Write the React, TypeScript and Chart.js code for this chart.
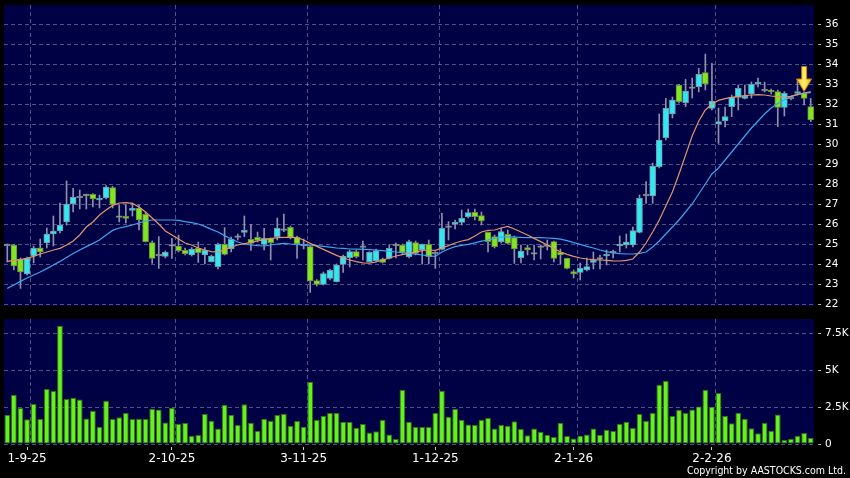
import React, { useEffect, useRef } from 'react';
import { Chart, registerables } from 'chart.js';

Chart.register(...registerables);

// ---------- categories (trading days) ----------
const DATES = [
  '27-8-25', '28-8-25', '29-8-25',
  '1-9-25', '2-9-25', '3-9-25', '4-9-25', '5-9-25', '8-9-25', '9-9-25', '10-9-25', '11-9-25', '12-9-25',
  '15-9-25', '16-9-25', '17-9-25', '18-9-25', '19-9-25', '22-9-25', '23-9-25', '24-9-25', '25-9-25', '26-9-25',
  '29-9-25', '30-9-25',
  '2-10-25', '3-10-25', '6-10-25', '8-10-25', '9-10-25', '10-10-25', '13-10-25', '14-10-25', '15-10-25',
  '16-10-25', '17-10-25', '20-10-25', '21-10-25', '22-10-25', '23-10-25', '24-10-25', '27-10-25', '28-10-25',
  '30-10-25', '31-10-25',
  '3-11-25', '4-11-25', '5-11-25', '6-11-25', '7-11-25', '10-11-25', '11-11-25', '12-11-25', '13-11-25',
  '14-11-25', '17-11-25', '18-11-25', '19-11-25', '20-11-25', '21-11-25', '24-11-25', '25-11-25', '26-11-25',
  '27-11-25', '28-11-25',
  '1-12-25', '2-12-25', '3-12-25', '4-12-25', '5-12-25', '8-12-25', '9-12-25', '10-12-25', '11-12-25',
  '12-12-25', '15-12-25', '16-12-25', '17-12-25', '18-12-25', '19-12-25', '22-12-25', '23-12-25', '24-12-25',
  '29-12-25', '30-12-25', '31-12-25',
  '2-1-26', '5-1-26', '6-1-26', '7-1-26', '8-1-26', '9-1-26', '12-1-26', '13-1-26', '14-1-26', '15-1-26',
  '16-1-26', '19-1-26', '20-1-26', '21-1-26', '22-1-26', '23-1-26', '26-1-26', '27-1-26', '28-1-26',
  '29-1-26', '30-1-26',
  '2-2-26', '3-2-26', '4-2-26', '5-2-26', '6-2-26', '9-2-26', '10-2-26', '11-2-26', '12-2-26', '13-2-26',
  '16-2-26', '20-2-26', '23-2-26', '24-2-26', '25-2-26', '26-2-26',
];

const DATE_TICK_LABELS = ['1-9-25', '2-10-25', '3-11-25', '1-12-25', '2-1-26', '2-2-26'];
const PRICE_TICKS = [22, 23, 24, 25, 26, 27, 28, 29, 30, 31, 32, 33, 34, 35, 36];
const VOLUME_TICKS = [0, 2.5, 5, 7.5];
const VOLUME_TICK_LABELS = ['0', '2.5K', '5K', '7.5K'];

// ---------- OHLC ----------
const OPEN = [
  24.95, 24.95, 24.25, 23.5, 24.4, 24.8, 25.05, 25.5, 25.65, 26.1,
  27.0, 27.35, 27.45, 27.48, 27.2, 27.3, 27.82, 26.37, 26.38, 26.68,
  26.8, 26.48, 25.07, 24.45, 24.38, 24.93, 24.9, 24.68, 24.45, 24.78,
  24.45, 24.12, 23.87, 24.98, 24.75, 25.37, 25.58, 25.23, 25.33, 24.98,
  25.28, 25.37, 25.72, 25.83, 25.33, 24.95, 24.87, 23.17, 22.98, 23.28,
  23.12, 23.98, 24.32, 24.62, 24.87, 24.12, 24.15, 24.25, 24.28, 24.95,
  24.95, 24.37, 25.07, 24.7, 24.98, 24.55, 24.73, 25.87, 25.98, 26.08,
  26.37, 26.58, 26.42, 25.58, 25.37, 25.12, 25.48, 25.32, 24.32, 24.82,
  24.53, 24.87, 24.92, 25.12, 24.58, 24.28, 23.62, 23.58, 23.7, 24.08,
  24.28, 24.4, 24.6, 24.9, 24.95, 24.95, 25.58, 27.45, 27.4, 28.87,
  30.32, 31.5, 32.95, 32.07, 32.82, 32.87, 33.57, 31.78, 31.0, 31.15,
  31.87, 32.33, 32.28, 32.5, 33.0, 32.7, 32.7, 32.62, 31.83, 32.3,
  32.53, 32.53, 31.87,
];
const HIGH = [
  25.0, 24.98, 24.3, 24.35, 24.9, 25.25, 25.8, 26.4, 27.05, 28.15,
  27.78, 27.7, 27.5, 27.52, 27.45, 27.92, 27.88, 26.95, 26.95, 27.05,
  26.95, 26.6, 25.15, 25.37, 24.65, 25.28, 25.45, 24.8, 24.82, 25.1,
  24.82, 24.45, 25.05, 25.82, 25.35, 25.5, 26.4, 25.98, 25.6, 25.78,
  25.3, 26.3, 26.5, 25.9, 25.4, 25.25, 24.9, 23.22, 23.6, 23.75,
  24.0, 24.45, 24.7, 24.68, 25.15, 24.62, 24.75, 24.3, 24.95, 25.05,
  25.0, 25.2, 25.15, 25.0, 25.2, 24.62, 26.53, 26.12, 26.2, 26.7,
  26.75, 26.75, 26.6, 25.6, 25.45, 25.8, 25.7, 25.4, 24.95, 24.95,
  24.95, 24.95, 25.2, 25.15, 24.75, 24.3, 23.7, 24.05, 24.3, 24.6,
  24.45, 24.7, 24.7, 25.4, 25.5, 25.85, 27.45, 28.12, 29.05, 31.5,
  32.28, 32.35, 32.98, 33.23, 33.3, 33.78, 34.5, 34.03, 31.8, 31.85,
  32.45, 32.95, 32.95, 33.1, 33.3, 33.1, 32.75, 32.7, 32.62, 32.4,
  33.2, 32.6, 32.28,
];
const LOW = [
  24.1, 23.7, 22.78, 23.45, 24.05, 24.35, 24.8, 24.9, 25.55, 25.95,
  26.6, 26.75, 26.75, 26.85, 26.8, 27.25, 26.8, 26.1, 26.05, 26.4,
  25.7, 25.1, 24.03, 23.78, 24.3, 24.28, 24.6, 24.45, 24.4, 24.08,
  24.0, 24.1, 23.75, 24.45, 24.6, 25.2, 25.37, 24.68, 25.1, 24.7,
  24.2, 25.2, 25.62, 25.25, 24.28, 24.75, 22.58, 22.9, 22.95, 23.2,
  23.1, 23.58, 23.85, 24.3, 24.2, 24.1, 24.1, 24.05, 24.25, 24.3,
  24.5, 24.3, 24.45, 24.0, 24.0, 23.78, 24.7, 25.2, 25.75, 25.95,
  26.3, 26.2, 25.95, 24.6, 24.8, 25.05, 25.0, 24.03, 24.05, 24.45,
  24.2, 24.25, 24.7, 24.1, 24.0, 23.75, 23.3, 23.2, 23.65, 23.75,
  23.75, 23.95, 24.3, 24.6, 24.8, 24.85, 25.55, 27.03, 27.03, 28.8,
  30.2, 31.3, 32.05, 31.87, 32.3, 32.6, 32.7, 31.7, 30.03, 30.85,
  31.37, 31.7, 32.25, 32.3, 32.85, 32.6, 32.5, 30.87, 31.4, 32.2,
  32.45, 31.95, 31.12,
];
const CLOSE = [
  24.95, 23.9, 23.6, 24.3, 24.8, 24.6, 25.5, 25.65, 25.95, 27.0,
  27.35, 27.35, 27.45, 27.25, 27.28, 27.85, 26.98, 26.37, 26.28, 26.78,
  26.2, 25.12, 24.28, 24.45, 24.58, 24.93, 24.67, 24.52, 24.75, 24.57,
  24.68, 24.4, 24.98, 24.48, 25.23, 25.37, 25.68, 25.03, 25.18, 25.28,
  25.07, 25.78, 25.72, 25.33, 25.0, 24.95, 23.15, 22.98, 23.52, 23.68,
  23.95, 24.4, 24.62, 24.37, 24.87, 24.58, 24.67, 24.08, 24.78, 24.95,
  24.58, 25.12, 24.53, 24.98, 24.37, 24.55, 25.78, 25.87, 26.08, 26.28,
  26.57, 26.37, 26.15, 25.12, 24.87, 25.62, 25.03, 24.75, 24.65, 24.7,
  24.53, 24.87, 24.92, 24.28, 24.45, 23.78, 23.5, 23.78, 23.87, 24.2,
  24.28, 24.48, 24.6, 24.98, 25.1, 25.67, 27.28, 27.45, 28.9, 30.2,
  31.78, 32.2, 32.12, 32.65, 32.82, 33.48, 33.0, 32.15, 31.12, 31.37,
  32.33, 32.78, 32.4, 32.98, 33.1, 32.7, 32.62, 31.83, 32.53, 32.3,
  32.62, 32.28, 31.2,
];

// ---------- moving averages ----------
const MA_SHORT = [
  24.13, 24.18, 24.22, 24.28, 24.38, 24.5, 24.6, 24.7, 24.78, 24.95,
  25.15, 25.45, 25.85, 26.1, 26.45, 26.7, 26.93, 27.05, 27.07, 27.03,
  26.85, 26.6, 26.3, 26.0, 25.65, 25.45, 25.25, 25.05, 24.95, 24.8,
  24.7, 24.62, 24.6, 24.72, 24.85, 24.95, 25.02, 25.08, 25.15, 25.22,
  25.27, 25.32, 25.33, 25.33, 25.32, 25.2, 25.03, 24.88, 24.73, 24.58,
  24.43, 24.3, 24.2, 24.12, 24.06, 24.04, 24.1, 24.2, 24.3, 24.4,
  24.47, 24.53, 24.58, 24.68, 24.7, 24.68, 24.8, 24.92, 25.05, 25.15,
  25.22, 25.4, 25.6, 25.68, 25.7, 25.8, 25.88, 25.75, 25.6, 25.45,
  25.28, 25.12, 24.95, 24.78, 24.6, 24.48, 24.38, 24.3, 24.25, 24.22,
  24.2, 24.18, 24.16, 24.15, 24.18, 24.25, 24.6, 25.05, 25.6, 26.2,
  26.9, 27.6, 28.5, 29.45, 30.4, 31.15, 31.7, 32.0, 32.18, 32.27,
  32.33, 32.38, 32.42, 32.45, 32.47, 32.45, 32.4, 32.37, 32.35, 32.38,
  32.48, 32.55, 32.62,
];
const MA_LONG = [
  22.78, 22.95, 23.13, 23.3, 23.45, 23.6, 23.77, 23.95, 24.13, 24.33,
  24.53, 24.7, 24.87, 25.03, 25.2, 25.45, 25.68, 25.8, 25.87, 25.95,
  26.05, 26.15, 26.2, 26.2, 26.2, 26.2, 26.18, 26.12, 26.07, 26.0,
  25.88, 25.73, 25.6, 25.42, 25.25, 25.1, 25.0, 24.95, 24.92, 24.9,
  24.95, 25.0, 25.03, 25.0, 24.98, 24.96, 24.94, 24.92, 24.88, 24.84,
  24.8, 24.78, 24.75, 24.74, 24.73, 24.72, 24.7, 24.67, 24.63, 24.6,
  24.57, 24.53, 24.49, 24.45, 24.41, 24.38, 24.6, 24.75, 24.87, 24.93,
  24.98, 25.06, 25.14, 25.2, 25.28, 25.35, 25.37, 25.35, 25.33, 25.32,
  25.32, 25.32, 25.3, 25.28, 25.24, 25.17, 25.07, 24.98, 24.88, 24.8,
  24.7, 24.62, 24.56, 24.52, 24.5, 24.5, 24.53, 24.6, 24.85, 25.15,
  25.5, 25.85, 26.2, 26.6, 27.0, 27.5, 28.0, 28.5, 28.8, 29.2,
  29.6, 30.0, 30.4, 30.8, 31.15, 31.5, 31.8, 32.03, 32.2, 32.37,
  32.47, 32.53, 32.57,
];

// ---------- volume (thousands) ----------
const VOLUME = [
  1.98, 3.33, 2.43, 1.67, 2.7, 1.69, 3.72, 3.58, 7.99, 3.04,
  3.13, 3.0, 1.73, 2.25, 1.17, 2.93, 1.69, 1.8, 2.09, 1.69,
  1.71, 1.69, 2.39, 2.34, 1.46, 2.45, 1.37, 1.42, 0.56, 0.61,
  2.03, 1.58, 1.04, 2.66, 1.98, 1.28, 2.68, 1.44, 0.9, 1.71,
  1.58, 1.96, 2.05, 1.24, 1.55, 1.17, 4.21, 1.62, 1.91, 2.09,
  2.09, 1.51, 1.49, 1.1, 1.35, 0.77, 0.86, 1.64, 0.65, 0.34,
  3.67, 1.51, 1.15, 1.15, 1.15, 2.09, 3.6, 1.85, 2.36, 1.64,
  1.31, 1.28, 1.64, 1.76, 1.04, 1.28, 1.24, 1.53, 1.01, 0.59,
  1.04, 0.83, 0.63, 0.47, 1.44, 0.54, 0.38, 0.56, 0.65, 1.04,
  0.63, 0.97, 0.88, 1.37, 1.51, 1.08, 2.03, 1.58, 2.09, 4.01,
  4.28, 1.89, 2.32, 2.09, 2.34, 2.54, 3.67, 2.52, 3.45, 1.91,
  1.4, 2.12, 1.71, 1.06, 0.72, 1.44, 0.9, 2.0, 0.27, 0.36,
  0.56, 0.74, 0.43,
];

const ARROW_DATE = '25-2-26';
const ARROW_PRICE = 33.25;

// ---------- styles ----------
const NAVY = '#000044';
const GRID = 'rgba(125,125,175,0.65)';
const UP = '#33e6f0';
const UP_BORDER = '#6f9aa6';
const DOWN = '#80e622';
const DOWN_BORDER = '#6e8c3c';
const FLAT = '#9aa4a4';
const WICK = '#8f90ab';
const MA_SHORT_COLOR = '#e3946c';
const MA_LONG_COLOR = '#3ea4ec';
const VOL_FILL = '#66f01e';
const VOL_BORDER = '#2f7012';

const bgPlugin = {
  id: 'panelBg',
  beforeDraw(chart: any) {
    const { ctx, chartArea } = chart;
    ctx.save();
    ctx.fillStyle = '#000';
    ctx.fillRect(0, 0, chart.width, chart.height);
    ctx.fillStyle = NAVY;
    ctx.fillRect(chartArea.left, chartArea.top, chartArea.right - chartArea.left, chartArea.bottom - chartArea.top);
    ctx.restore();
  },
};

const vGridPlugin = {
  id: 'dateGrid',
  beforeDatasetsDraw(chart: any) {
    const { ctx, chartArea } = chart;
    const x = chart.scales.x;
    ctx.save();
    ctx.strokeStyle = GRID;
    ctx.lineWidth = 1;
    ctx.setLineDash([4, 3]);
    for (const lbl of DATE_TICK_LABELS) {
      const i = DATES.indexOf(lbl);
      const px = Math.round((x.getPixelForValue(i) + x.getPixelForValue(i + 1)) / 2) + 0.5;
      ctx.beginPath();
      ctx.moveTo(px, chartArea.top);
      ctx.lineTo(px, chartArea.bottom);
      ctx.stroke();
    }
    ctx.restore();
  },
};

function makeArrow() {
  const c = document.createElement('canvas');
  c.width = 16;
  c.height = 26;
  const g = c.getContext('2d')!;
  const grad = g.createLinearGradient(0, 0, 16, 0);
  grad.addColorStop(0, '#f7c21a');
  grad.addColorStop(0.5, '#fff070');
  grad.addColorStop(1, '#f0b000');
  g.fillStyle = grad;
  g.strokeStyle = '#c47a00';
  g.lineWidth = 1;
  g.beginPath();
  g.moveTo(5.5, 0.5);
  g.lineTo(10.5, 0.5);
  g.lineTo(10.5, 13);
  g.lineTo(15.5, 13);
  g.lineTo(8, 25.5);
  g.lineTo(0.5, 13);
  g.lineTo(5.5, 13);
  g.closePath();
  g.fill();
  g.stroke();
  return c;
}

const candleColor = (i: number) => (CLOSE[i] > OPEN[i] ? UP : CLOSE[i] < OPEN[i] ? DOWN : FLAT);
const candleBorder = (i: number) => (CLOSE[i] > OPEN[i] ? UP_BORDER : CLOSE[i] < OPEN[i] ? DOWN_BORDER : '#7a8484');

export default function App() {
  const priceRef = useRef<HTMLCanvasElement>(null);
  const volRef = useRef<HTMLCanvasElement>(null);

  useEffect(() => {
    document.body.style.margin = '0';
    document.body.style.background = '#000';
    Chart.defaults.font.family = "'DejaVu Sans', sans-serif";

    const arrow = makeArrow();
    const bodies = OPEN.map((o, i) => {
      const c = CLOSE[i];
      if (o === c) return [o - 0.04, o + 0.04];
      return [Math.min(o, c), Math.max(o, c)];
    });
    const wicks = LOW.map((l, i) => [l, HIGH[i]]);
    const arrowData = DATES.map((d) => (d === ARROW_DATE ? ARROW_PRICE : null));

    const priceChart = new Chart(priceRef.current!, {
      type: 'bar',
      data: {
        labels: DATES,
        datasets: [
          {
            type: 'line',
            data: arrowData,
            showLine: false,
            pointStyle: arrow as any,
            pointRadius: 8,
            order: -1,
          } as any,
          {
            type: 'line',
            data: MA_SHORT,
            borderColor: MA_SHORT_COLOR,
            borderWidth: 1.2,
            pointRadius: 0,
            order: 0,
          },
          {
            type: 'line',
            data: MA_LONG,
            borderColor: MA_LONG_COLOR,
            borderWidth: 1.2,
            pointRadius: 0,
            order: 0,
          },
          {
            type: 'bar',
            data: bodies as any,
            backgroundColor: OPEN.map((_, i) => candleColor(i)),
            borderColor: OPEN.map((_, i) => candleBorder(i)),
            borderWidth: 1,
            borderSkipped: false,
            barThickness: 6,
            grouped: false,
            order: 1,
          } as any,
          {
            type: 'bar',
            data: wicks as any,
            backgroundColor: WICK,
            borderWidth: 0,
            barThickness: 1,
            grouped: false,
            order: 2,
          } as any,
        ],
      },
      options: {
        animation: false,
        responsive: false,
        devicePixelRatio: 1,
        events: [],
        layout: { autoPadding: false, padding: { left: 4, top: 5, right: 0, bottom: 6 } },
        plugins: { legend: { display: false }, tooltip: { enabled: false } },
        scales: {
          x: { display: false, offset: true },
          y: {
            position: 'right',
            min: 21.9,
            max: 36.95,
            afterBuildTicks: (s: any) => {
              s.ticks = PRICE_TICKS.map((v) => ({ value: v }));
            },
            afterFit: (s: any) => {
              s.width = 36;
              s.paddingTop = 0;
              s.paddingBottom = 0;
            },
            ticks: {
              color: '#ffffff',
              font: { size: 10.5 },
              padding: 3,
              callback: (v: any) => String(v),
            },
            grid: {
              color: GRID,
              tickColor: '#b0b0b0',
              tickLength: 8,
              tickBorderDash: [0, 4, 3, 100],
            },
            border: { display: false, dash: [4, 3] },
          } as any,
        },
      } as any,
      plugins: [bgPlugin, vGridPlugin],
    });

    const volChart = new Chart(volRef.current!, {
      type: 'bar',
      data: {
        labels: DATES,
        datasets: [
          {
            data: VOLUME,
            backgroundColor: VOL_FILL,
            borderColor: VOL_BORDER,
            borderWidth: 1,
            borderSkipped: false,
            barPercentage: 0.88,
            categoryPercentage: 1,
          },
        ],
      },
      options: {
        animation: false,
        responsive: false,
        devicePixelRatio: 1,
        events: [],
        layout: { autoPadding: false, padding: { left: 4, top: 7, right: 0, bottom: 10 } },
        plugins: { legend: { display: false }, tooltip: { enabled: false } },
        scales: {
          x: {
            offset: true,
            afterFit: (s: any) => {
              s.height = 24;
              s.paddingLeft = 0;
              s.paddingRight = 0;
            },
            grid: {
              display: true,
              offset: false,
              drawOnChartArea: false,
              drawTicks: true,
              tickLength: 6,
              tickBorderDash: [0, 3, 3, 100],
              tickColor: (c: any) =>
                DATE_TICK_LABELS.includes(DATES[c.index]) ? '#c8c8c8' : 'rgba(0,0,0,0)',
            },
            border: { display: false },
            ticks: {
              autoSkip: false,
              maxRotation: 0,
              minRotation: 0,
              color: '#ffffff',
              font: { size: 12 },
              padding: 2,
              callback: (_v: any, i: number) =>
                DATE_TICK_LABELS.includes(DATES[i]) ? DATES[i] : '',
            },
          } as any,
          y: {
            position: 'right',
            min: 0,
            max: 8.45,
            afterBuildTicks: (s: any) => {
              s.ticks = VOLUME_TICKS.map((v) => ({ value: v }));
            },
            afterFit: (s: any) => {
              s.width = 36;
              s.paddingTop = 0;
              s.paddingBottom = 0;
            },
            ticks: {
              color: '#ffffff',
              font: { size: 10.5 },
              padding: 3,
              callback: (v: any) => VOLUME_TICK_LABELS[VOLUME_TICKS.indexOf(v)] ?? '',
            },
            grid: {
              color: GRID,
              tickColor: '#b0b0b0',
              tickLength: 8,
              tickBorderDash: [0, 4, 3, 100],
            },
            border: { display: false, dash: [4, 3] },
          } as any,
        },
      } as any,
      plugins: [bgPlugin, vGridPlugin],
    });

    return () => {
      priceChart.destroy();
      volChart.destroy();
    };
  }, []);

  return (
    <div
      style={{
        position: 'fixed',
        left: 0,
        top: 0,
        width: 850,
        height: 478,
        background: '#000',
        overflow: 'hidden',
      }}
    >
      <canvas
        ref={priceRef}
        width={850}
        height={312}
        style={{ position: 'absolute', left: 0, top: 0, width: 850, height: 312 }}
      />
      <canvas
        ref={volRef}
        width={850}
        height={166}
        style={{ position: 'absolute', left: 0, top: 312, width: 850, height: 166 }}
      />
      <div
        style={{
          position: 'absolute',
          right: 4,
          top: 464,
          color: '#ffffff',
          font: "10.5px 'DejaVu Sans Condensed', 'DejaVu Sans', sans-serif",
          lineHeight: '12px',
          whiteSpace: 'nowrap',
        }}
      >
        Copyright by AASTOCKS.com Ltd.
      </div>
    </div>
  );
}
